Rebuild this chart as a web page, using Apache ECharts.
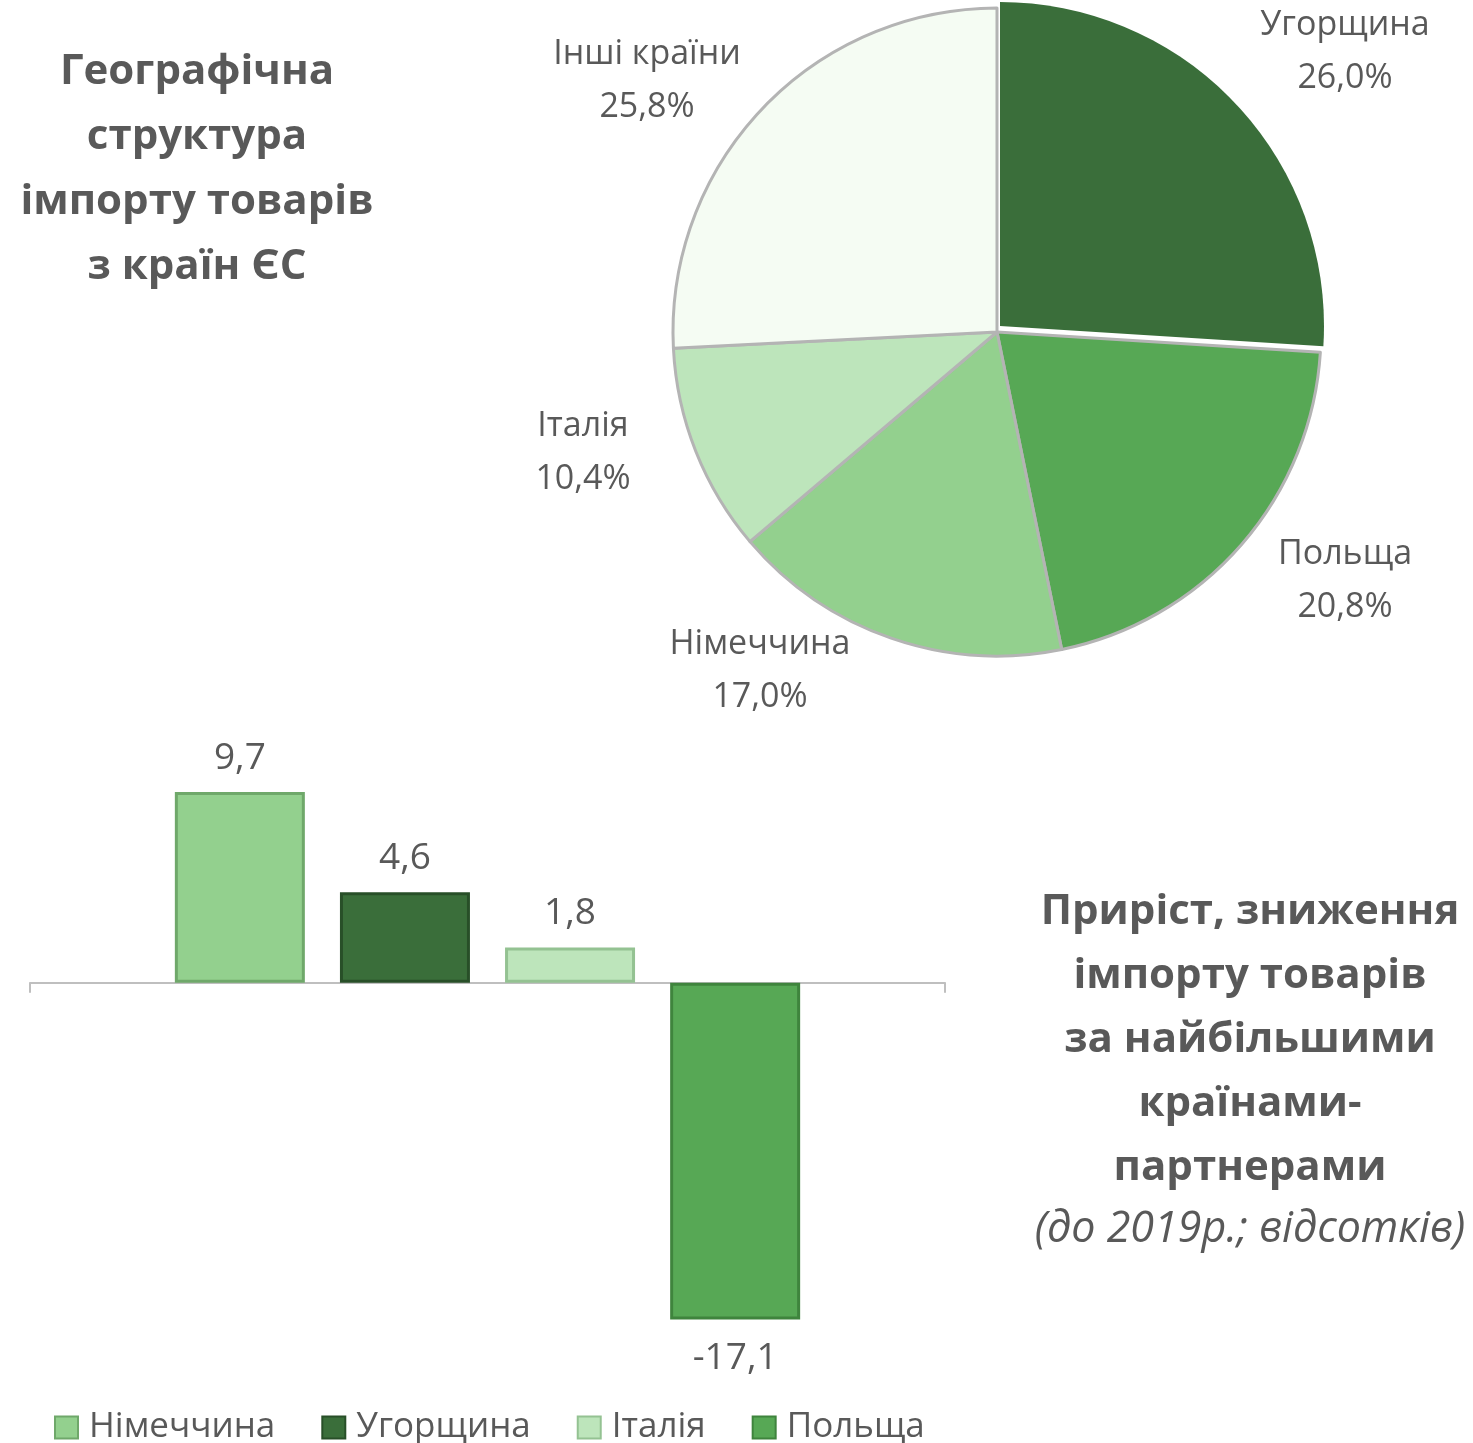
<!DOCTYPE html>
<html>
<head>
<meta charset="utf-8">
<script src="https://cdn.jsdelivr.net/npm/echarts@6/dist/echarts.min.js"></script>
<style>
  html, body { margin: 0; padding: 0; background: #fff; }
  #container { width: 1473px; height: 1443px; }
</style>
</head>
<body>
<div id="container"></div>
<script>
// структура імпорту (пиріг)
const pieNames = ['Угорщина', 'Польща', 'Німеччина', 'Італія', 'Інші країни'];
const pieValues = [26.0, 20.8, 17.0, 10.4, 25.8];
const pieColors = ['#3a6e3a', '#57a855', '#93d08e', '#bde5bb', '#f5fcf3'];
// центри підписів пирога
const pieLabelX = [1345, 1345, 760, 583, 647];
const pieLabelY = [52, 581, 671, 453, 81];

// приріст / зниження (стовпці)
const barNames = ['Німеччина', 'Угорщина', 'Італія', 'Польща'];
const barValues = [9.7, 4.6, 1.8, -17.1];
const barColors = ['#93d08e', '#3a6e3a', '#bde5bb', '#57a855'];
const barBorders = ['#6fa86a', '#284f28', '#94c292', '#3f843d'];

const font = 'Open Sans';
const grey = '#595959';
const pieCenter = [997, 332];
const pieRadius = 324;

// висунутий сектор (Угорщина) малюється окремою серією, трохи зсунутою вгору-праворуч
let shiftedCenter = [pieCenter[0] + 3, pieCenter[1] - 6];

let hidden = { color: 'rgba(0,0,0,0)', borderWidth: 0 };

let pieDataMain = pieNames.map((n, i) => ({
    name: n,
    value: pieValues[i],
    itemStyle: i === 0 ? hidden : { color: pieColors[i], borderColor: '#b4b4b4', borderWidth: 3 }
}));
let pieDataExploded = pieNames.map((n, i) => ({
    name: n,
    value: pieValues[i],
    itemStyle: i === 0 ? { color: pieColors[0], borderWidth: 0 } : hidden
}));

let barSeries = barNames.map((n, i) => ({
    name: n,
    type: 'bar',
    barWidth: 130,
    barGap: '27%',
    itemStyle: {
        color: barColors[i],
        borderColor: barBorders[i],
        borderWidth: 3
    },
    label: {
        show: true,
        position: barValues[i] >= 0 ? 'top' : 'bottom',
        distance: barValues[i] >= 0 ? 15 : 20,
        color: grey,
        fontFamily: font,
        fontSize: 37,
        formatter: p => String(p.value).replace('.', ',')
    },
    data: [barValues[i]]
}));

let option = {
    animation: false,
    textStyle: { fontFamily: font },
    title: [
        {
            text: 'Географічна\nструктура\nімпорту товарів\nз країн ЄС',
            left: 192, top: 35, textAlign: 'center',
            textStyle: { color: grey, fontFamily: font, fontWeight: 'bold', fontSize: 42, lineHeight: 65 }
        },
        {
            text: 'Приріст, зниження\nімпорту товарів\nза найбільшими\nкраїнами-\nпартнерами',
            left: 1245, top: 875, textAlign: 'center',
            textStyle: { color: grey, fontFamily: font, fontWeight: 'bold', fontSize: 42, lineHeight: 64 }
        },
        {
            text: '(до 2019р.; відсотків)',
            left: 1245, top: 1203, textAlign: 'center',
            textStyle: { color: grey, fontFamily: font, fontStyle: 'italic', fontWeight: 'normal', fontSize: 43 }
        }
    ],
    legend: {
        data: barNames,
        left: 49, top: 1405,
        itemWidth: 23, itemHeight: 22, itemGap: 46,
        icon: 'rect',
        selectedMode: false,
        textStyle: { color: grey, fontFamily: font, fontSize: 35, padding: [0, 0, 0, 6] }
    },
    grid: { left: 30, right: 528, top: 746.6, height: 630 },
    xAxis: {
        type: 'category',
        data: [''],
        axisLine: { lineStyle: { color: '#bfbfbf', width: 2 }, onZero: true },
        axisTick: { show: true, length: 10, lineStyle: { color: '#bfbfbf', width: 2 } },
        axisLabel: { show: false }
    },
    yAxis: {
        type: 'value',
        min: -20, max: 12,
        show: false,
        splitLine: { show: false }
    },
    series: [
        {
            type: 'pie',
            center: shiftedCenter,
            radius: pieRadius,
            startAngle: 90,
            clockwise: true,
            silent: true,
            label: { show: false },
            labelLine: { show: false },
            data: pieDataExploded
        },
        {
            type: 'pie',
            center: pieCenter,
            radius: pieRadius,
            startAngle: 90,
            clockwise: true,
            label: {
                show: true,
                position: 'outside',
                color: grey,
                fontFamily: font,
                fontSize: 34,
                lineHeight: 53,
                align: 'center',
                formatter: p => p.name + '\n' + p.value.toFixed(1).replace('.', ',') + '%'
            },
            labelLine: { show: false },
            labelLayout: p => ({
                x: pieLabelX[p.dataIndex],
                y: pieLabelY[p.dataIndex],
                align: 'center',
                verticalAlign: 'middle'
            }),
            data: pieDataMain
        }
    ].concat(barSeries)
};

let myChart = echarts.init(document.getElementById('container'));
myChart.setOption(option);
</script>
</body>
</html>
